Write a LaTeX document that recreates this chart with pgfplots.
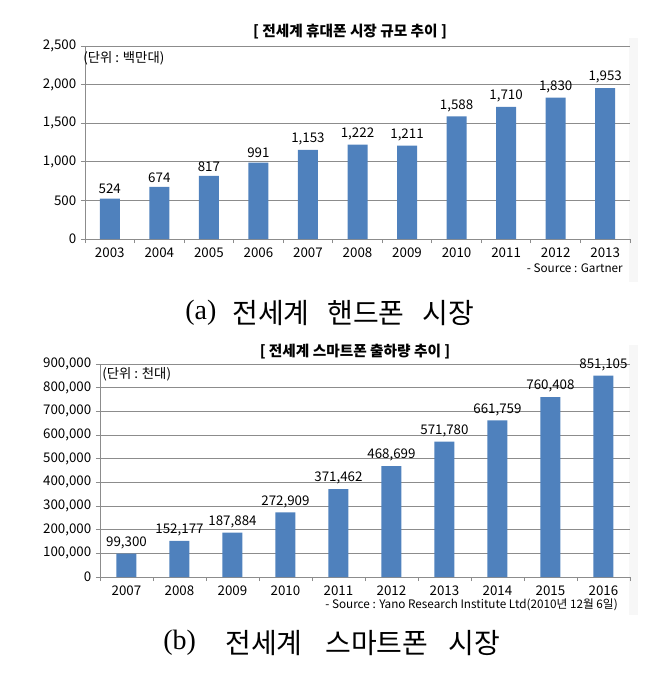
\documentclass[border=0pt]{standalone}
\usepackage{pgfplots}
\pgfplotsset{compat=1.18}
\usepackage{fontspec}
\setmainfont{Noto Sans CJK KR}
\newfontfamily\capserif{Liberation Serif}
\definecolor{barblue}{HTML}{4F81BD}
\definecolor{gridgray}{HTML}{8C8C8C}

\newcommand{\smallfont}{\fontsize{10}{12}\selectfont}
\newcommand{\srcfont}{\fontsize{8.8}{10}\selectfont}
\newcommand{\titlefont}{\fontsize{11}{13}\selectfont\bfseries}

\pgfplotsset{
  excelbars/.style={
    scale only axis,
    anchor=south west,
    ybar, bar width=15pt,
    axis x line*=bottom, axis y line*=left,
    axis line style={gridgray, line width=0.7pt},
    ymajorgrids, grid style={gridgray, line width=0.7pt},
    tick align=outside, major tick length=3pt,
    ytick style={gridgray, line width=0.7pt},
    xtick style={draw=none},
    extra x tick style={grid=none, xtick style={draw=gridgray, line width=0.7pt}},
    extra x tick labels={},
    ticklabel style={font=\smallfont},
    nodes near coords, point meta=explicit symbolic,
    every node near coord/.append style={font=\smallfont, black},
    enlarge x limits=false,
  }
}

\begin{document}
\begin{tikzpicture}[x=0.75pt, y=-0.75pt]
\path[use as bounding box] (0,0) rectangle (671,683);
% faint frame shading of the two chart areas
\fill[gray!6] (629,38) rectangle (638,282);
\fill[gray!6] (629,345) rectangle (638,615);
\coordinate (A) at (85,239);
\coordinate (B) at (100,577);

% (a) mobile phone market
\begin{axis}[excelbars, at={(A)},
  width=408.75pt, height=144.75pt,
  xmin=-0.5, xmax=10.5, ymin=0, ymax=2500,
  xtick={0,...,10},
  xticklabels={2003,2004,2005,2006,2007,2008,2009,2010,2011,2012,2013},
  extra x ticks={-0.5,0.5,...,10.5},
  ytick={0,500,1000,1500,2000,2500},
  yticklabels={0,500,{1,000},{1,500},{2,000},{2,500}},
]
\addplot[fill=barblue, draw=none] table[meta=lab] {
x y lab
0 524 524
1 674 674
2 817 817
3 991 991
4 1153 1,153
5 1222 1,222
6 1211 1,211
7 1588 1,588
8 1710 1,710
9 1830 1,830
10 1953 1,953
};
\end{axis}

% (b) smartphone shipments
\begin{axis}[excelbars, at={(B)},
  width=397.5pt, height=159.75pt,
  xmin=-0.5, xmax=9.5, ymin=0, ymax=900000,
  xtick={0,...,9},
  xticklabels={2007,2008,2009,2010,2011,2012,2013,2014,2015,2016},
  extra x ticks={-0.5,0.5,...,9.5},
  ytick={0,100000,200000,300000,400000,500000,600000,700000,800000,900000},
  yticklabels={0,{100,000},{200,000},{300,000},{400,000},{500,000},{600,000},{700,000},{800,000},{900,000}},
  scaled y ticks=false,
]
\addplot[fill=barblue, draw=none] table[meta=lab] {
x y lab
0 99300 99,300
1 152177 152,177
2 187884 187,884
3 272909 272,909
4 371462 371,462
5 468699 468,699
6 571780 571,780
7 661759 661,759
8 760408 760,408
9 851105 851,105
};
\end{axis}

% texts of chart (a)
\node[font=\titlefont] at (350,32) {[ 전세계 휴대폰 시장 규모 추이 ]};
\node[font=\smallfont, anchor=west, inner sep=0pt] at (83,58) {(단위 : 백만대)};
\node[font=\srcfont, anchor=east, inner sep=0pt] at (623,268) {- Source : Gartner};
% texts of chart (b)
\node[font=\titlefont] at (355,352) {[ 전세계 스마트폰 출하량 추이 ]};
\node[font=\smallfont, anchor=west, inner sep=0pt] at (102,374) {(단위 : 천대)};
\node[font=\srcfont, anchor=east, inner sep=0pt] at (618,605) {- Source : Yano Research Institute Ltd(2010년 12월 6일)};

% captions
\begin{scope}[every node/.style={font=\fontsize{21}{24}\selectfont, anchor=west, inner sep=0pt}]
\node at (185,313) {\capserif (a)};
\node at (232,313) {전세계};
\node at (327,313) {핸드폰};
\node at (422,313) {시장};
\node at (163,643) {\capserif (b)};
\node at (225,643) {전세계};
\node at (325,643) {스마트폰};
\node at (448,643) {시장};
\end{scope}
\end{tikzpicture}
\end{document}
